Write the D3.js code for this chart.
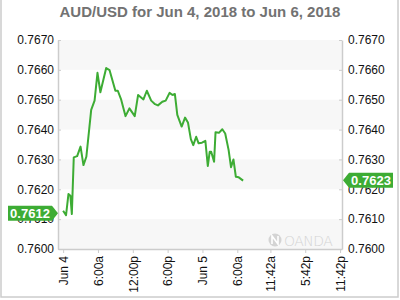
<!DOCTYPE html>
<html>
<head>
<meta charset="utf-8">
<script src="https://cdn.jsdelivr.net/npm/d3@7"></script>
<style>
  body { margin: 0; background: #fff; }
  svg { display: block; font-family: "Liberation Sans", Arial, sans-serif; }
</style>
</head>
<body>
<div id="chart"><svg width="400" height="300"></svg></div>
<script>
// quotes
const times = [
  "2018-06-04 00:00", "2018-06-04 00:30", "2018-06-04 00:55", "2018-06-04 01:15", "2018-06-04 01:30",
  "2018-06-04 01:50", "2018-06-04 02:25", "2018-06-04 03:00", "2018-06-04 03:30", "2018-06-04 04:00",
  "2018-06-04 04:50", "2018-06-04 05:25", "2018-06-04 05:55", "2018-06-04 06:25", "2018-06-04 07:25",
  "2018-06-04 08:00", "2018-06-04 09:00", "2018-06-04 09:25", "2018-06-04 10:00", "2018-06-04 10:45",
  "2018-06-04 11:25", "2018-06-04 12:20", "2018-06-04 12:55", "2018-06-04 13:50", "2018-06-04 14:25",
  "2018-06-04 15:10", "2018-06-04 15:50", "2018-06-04 16:20", "2018-06-04 17:05", "2018-06-04 17:40",
  "2018-06-04 18:20", "2018-06-04 18:50", "2018-06-04 19:15", "2018-06-04 19:40", "2018-06-04 20:25",
  "2018-06-04 21:00", "2018-06-04 21:30", "2018-06-04 22:00", "2018-06-04 22:25", "2018-06-04 22:55",
  "2018-06-04 23:20", "2018-06-04 23:55", "2018-06-05 00:30", "2018-06-05 00:55", "2018-06-05 01:15",
  "2018-06-05 01:30", "2018-06-05 02:00", "2018-06-05 02:15", "2018-06-05 02:50", "2018-06-05 03:25",
  "2018-06-05 03:55", "2018-06-05 04:30", "2018-06-05 04:55", "2018-06-05 05:20", "2018-06-05 05:45",
  "2018-06-05 06:15", "2018-06-05 07:00"
];
const prices = [
  0.76128, 0.76113, 0.76184, 0.76178, 0.76117,
  0.76307, 0.76311, 0.76343, 0.76281, 0.76309,
  0.76466, 0.76497, 0.76590, 0.76525, 0.76606,
  0.76599, 0.76530, 0.76530, 0.76500, 0.76445,
  0.76471, 0.76445, 0.76516, 0.76501, 0.76530,
  0.76497, 0.76485, 0.76481, 0.76493, 0.76497,
  0.76523, 0.76516, 0.76519, 0.76449, 0.76410,
  0.76440, 0.76424, 0.76368, 0.76348, 0.76376,
  0.76354, 0.76356, 0.76362, 0.76278, 0.76326,
  0.76326, 0.76292, 0.76391, 0.76389, 0.76401,
  0.76387, 0.76332, 0.76274, 0.76300, 0.76242,
  0.76240, 0.76229
];
const yTicks = [0.7600, 0.7610, 0.7620, 0.7630, 0.7640, 0.7650, 0.7660, 0.7670];
const xTickTimes = [
  "2018-06-04 00:00", "2018-06-04 06:00", "2018-06-04 12:00", "2018-06-04 18:00",
  "2018-06-05 00:00", "2018-06-05 06:00", "2018-06-05 11:42", "2018-06-05 17:42", "2018-06-05 23:42"
];
const xTickLabels = ["Jun 4", "6:00a", "12:00p", "6:00p", "Jun 5", "6:00a", "11:42a", "5:42p", "11:42p"];
const xDomain = ["2018-06-03 23:07", "2018-06-06 00:02"];
const openPrice = 0.7612;
const lastPrice = 0.7623;

const parse = d3.timeParse("%Y-%m-%d %H:%M");
const data = times.map((t, i) => ({date: parse(t), value: prices[i]}));

const plotLeft = 58, plotRight = 342, plotTop = 40, plotBottom = 249;
const green = "#3dac34";

const svg = d3.select("#chart").select("svg");

const x = d3.scaleTime().domain(xDomain.map(parse)).range([plotLeft, plotRight]);
const y = d3.scaleLinear().domain([0.7600, 0.7670]).range([plotBottom, plotTop]);

// outer frame
svg.append("rect")
  .attr("x", 1).attr("y", -2)
  .attr("width", 397).attr("height", 299)
  .attr("fill", "none").attr("stroke", "#cccccc").attr("stroke-width", 1.5);

// title
svg.append("text")
  .attr("x", 200).attr("y", 17)
  .attr("text-anchor", "middle")
  .attr("font-size", 15).attr("font-weight", "bold")
  .attr("fill", "#727272")
  .text("AUD/USD for Jun 4, 2018 to Jun 6, 2018");

// alternating bands
const bands = d3.pairs(yTicks).filter((p, i) => i % 2 === 0);
svg.append("g").selectAll("rect")
  .data(bands)
  .enter().append("rect")
  .attr("x", plotLeft).attr("width", plotRight - plotLeft)
  .attr("y", d => y(d[1]))
  .attr("height", d => y(d[0]) - y(d[1]))
  .attr("fill", "#f7f7f7");

// watermark
const wm = svg.append("g").attr("fill", "#d4d4d4");
wm.append("circle").attr("cx", 275).attr("cy", 240).attr("r", 6.5);
wm.append("path")
  .attr("d", "M272,244 L272,236 L278,244 L278,236")
  .attr("fill", "none").attr("stroke", "#fff").attr("stroke-width", 1.6);
wm.append("text")
  .attr("x", 284).attr("y", 245.5)
  .attr("font-size", 14).attr("letter-spacing", -0.5)
  .attr("font-family", "'DejaVu Sans', sans-serif")
  .attr("font-weight", "200")
  .text("OANDA");

// axes
const yLeft = d3.axisLeft(y).tickValues(yTicks).tickFormat(d3.format(".4f")).tickSizeInner(-3).tickSizeOuter(0).tickPadding(4);
const yRight = d3.axisRight(y).tickValues(yTicks).tickFormat(d3.format(".4f")).tickSizeInner(-3).tickSizeOuter(0).tickPadding(6);
const xAxis = d3.axisBottom(x).tickValues(xTickTimes.map(parse))
  .tickFormat((d, i) => xTickLabels[i]).tickSizeInner(4).tickSizeOuter(0);

function styleAxis(g) {
  g.select(".domain").attr("stroke", "#cccccc").attr("stroke-width", 1.5);
  g.selectAll(".tick line").attr("stroke", "#cccccc");
  g.selectAll(".tick text").attr("fill", "#111").attr("font-size", 12)
    .attr("font-family", "'Liberation Sans', Arial, sans-serif");
}

svg.append("g").attr("transform", `translate(${plotLeft},0)`).call(yLeft).call(styleAxis);
svg.append("g").attr("transform", `translate(${plotRight},0)`).call(yRight).call(styleAxis);
const gx = svg.append("g").attr("transform", `translate(0,${plotBottom})`).call(xAxis).call(styleAxis);
gx.selectAll(".tick text")
  .attr("transform", "rotate(-90)")
  .attr("text-anchor", "end")
  .attr("x", -7).attr("y", 0).attr("dy", ".35em");

// price line
const line = d3.line().x(d => x(d.date)).y(d => y(d.value));
svg.append("path")
  .datum(data)
  .attr("d", line)
  .attr("fill", "none")
  .attr("stroke", green)
  .attr("stroke-width", 2)
  .attr("stroke-linejoin", "round");

// price tags
function tag(value, side) {
  const cy = y(value), h = 15, w = 44, tip = 6;
  const g = svg.append("g");
  let d, tx;
  if (side === "left") {
    const x1 = plotLeft - tip - w;
    d = `M${x1},${cy - h / 2} L${plotLeft - tip},${cy - h / 2} L${plotLeft},${cy} L${plotLeft - tip},${cy + h / 2} L${x1},${cy + h / 2} Z`;
    tx = x1 + w / 2;
  } else {
    const x1 = plotRight + 1 + tip + w;
    d = `M${x1},${cy - h / 2} L${plotRight + 1 + tip},${cy - h / 2} L${plotRight + 1},${cy} L${plotRight + 1 + tip},${cy + h / 2} L${x1},${cy + h / 2} Z`;
    tx = plotRight + 1 + tip + w / 2;
  }
  g.append("path").attr("d", d).attr("fill", green);
  g.append("text")
    .attr("x", tx).attr("y", cy).attr("dy", ".36em")
    .attr("text-anchor", "middle")
    .attr("font-size", 13).attr("font-weight", "bold")
    .attr("fill", "#fff")
    .text(d3.format(".4f")(value));
}
tag(openPrice, "left");
tag(lastPrice, "right");
</script>
</body>
</html>
